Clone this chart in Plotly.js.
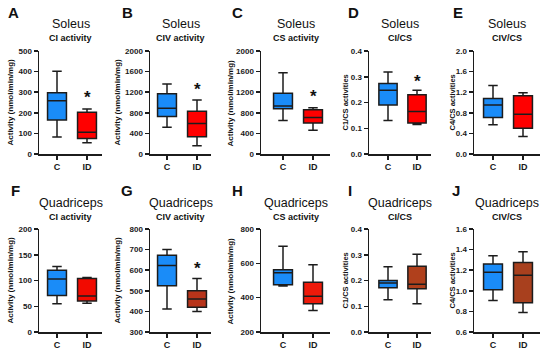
<!DOCTYPE html>
<html>
<head>
<meta charset="utf-8">
<script src="https://cdn.plot.ly/plotly-3.0.1.min.js"></script>
<style>html,body{margin:0;padding:0;background:#fff;}#chart{width:550px;height:349px;}</style>
</head>
<body>
<div id="chart"></div>
<script>
// ---- data ----
const groups = ['C', 'ID'];
const panelLetters = ['A','B','C','D','E','F','G','H','I','J'];
const muscles = ['Soleus','Soleus','Soleus','Soleus','Soleus','Quadriceps','Quadriceps','Quadriceps','Quadriceps','Quadriceps'];
const measures = ['CI activity','CIV activity','CS activity','CI/CS','CIV/CS','CI activity','CIV activity','CS activity','CI/CS','CIV/CS'];
const yTitles = ['Activity (nmol/min/mg)','Activity (nmol/min/mg)','Activity (nmol/min/mg)','C1/CS activities','C4/CS activities',
                 'Activity (nmol/min/mg)','Activity (nmol/min/mg)','Activity (nmol/min/mg)','C1/CS activities','C4/CS activities'];
const yRanges = [[0,500],[0,2000],[0,2000],[0,0.4],[0,2.0],[0,200],[300,800],[200,800],[0,0.4],[0.6,1.6]];
const yDtick = [100,400,400,0.1,0.4,50,100,200,0.1,0.2];
// per panel: [lowerfence, q1, median, q3, upperfence]
const ctrlStats = [
  [82, 165, 258, 297, 402],
  [520, 730, 890, 1170, 1360],
  [650, 880, 930, 1180, 1580],
  [0.13, 0.19, 0.248, 0.274, 0.318],
  [0.57, 0.71, 0.95, 1.08, 1.33],
  [55, 71, 103, 120, 127],
  [412, 525, 623, 672, 700],
  [468, 475, 545, 562, 700],
  [0.125, 0.172, 0.19, 0.2, 0.253],
  [0.905, 1.01, 1.18, 1.26, 1.34]
];
const idStats = [
  [55, 75, 105, 203, 218],
  [160, 335, 590, 830, 1050],
  [460, 600, 710, 860, 900],
  [0.115, 0.12, 0.165, 0.23, 0.248],
  [0.34, 0.5, 0.77, 1.13, 1.19],
  [56, 60, 70, 104, 106],
  [400, 420, 460, 500, 560],
  [325, 365, 408, 490, 592],
  [0.11, 0.168, 0.185, 0.255, 0.302],
  [0.79, 0.885, 1.15, 1.275, 1.38]
];
// significance star (null = none), y value over ID
const starY = [275, 1250, 1120, 0.28, null, null, 610, null, null, null];

// ---- layout geometry (pixels) ----
const W = 550, H = 349;
const colGeom = [[39,57,87,102],[150,167,197,211],[261,283,313,330],[369,388,417,431],[474,493,523,540]];
const rowGeom = [[51,154],[229,332]];
const letterPos = [[13,12],[127,12],[237,12],[353,12],[458,12],[15,190],[127,190],[237,190],[350,190],[456,190]];
const yTitleX = [10,117,230,345,452,10,117,230,345,452];
const yTitleSize = [8,8,8,7.5,7.5,8,8,8,7.5,7.5];

const FONT = 'Liberation Sans, Arial, Helvetica, sans-serif';
const blue = '#1a8cf8';
const redFill = ['#ff0000','#ff0000','#ff0000','#ff0000','#ff0000','#f20a00','#b8341a','#ee1a0a','#b0401c','#a8401e'];
const lineC = '#1c1c1c';

const data = [];
const layout = {
  width: W, height: H,
  margin: {l:0, r:0, t:0, b:0},
  paper_bgcolor: '#ffffff', plot_bgcolor: '#ffffff',
  showlegend: false,
  annotations: [],
  font: {family: FONT, color: '#1a1a1a'}
};

for (let i = 0; i < 10; i++) {
  const col = i % 5, row = Math.floor(i / 5);
  const [x0, xc, xi, x1] = colGeom[col];
  const [yt, yb] = rowGeom[row];
  const s = xi - xc;
  const sfx = i === 0 ? '' : String(i + 1);
  const xa = 'x' + sfx, ya = 'y' + sfx;
  const stats = [ctrlStats[i], idStats[i]];
  const fills = [blue, redFill[i]];
  for (let g = 0; g < 2; g++) {
    const st = stats[g];
    data.push({
      type: 'box', xaxis: xa, yaxis: ya,
      x: [groups[g]],
      lowerfence: [st[0]], q1: [st[1]], median: [st[2]], q3: [st[3]], upperfence: [st[4]],
      fillcolor: fills[g],
      line: {color: lineC, width: 1.5},
      whiskerwidth: 0.5,
      width: 0.63,
      boxpoints: false,
      hoverinfo: 'skip'
    });
  }
  layout['xaxis' + sfx] = {
    domain: [x0 / W, x1 / W],
    anchor: ya,
    type: 'category',
    categoryarray: groups, categoryorder: 'array',
    range: [-(xc - x0) / s, 1 + (x1 - xi) / s],
    showline: true, linecolor: lineC, linewidth: 1.5,
    ticks: 'outside', ticklen: 4, tickwidth: 1.5, tickcolor: lineC,
    tickfont: {family: FONT, size: 9, color: '#1a1a1a', weight: 'bold'},
    showgrid: false, zeroline: false, fixedrange: true
  };
  layout['yaxis' + sfx] = {
    domain: [1 - yb / H, 1 - yt / H],
    anchor: xa,
    range: yRanges[i],
    dtick: yDtick[i], tick0: yRanges[i][0],
    showline: true, linecolor: lineC, linewidth: 1.5,
    ticks: 'outside', ticklen: 4, tickwidth: 1.5, tickcolor: lineC,
    tickfont: {family: FONT, size: 8, color: '#1a1a1a', weight: 'bold'},
    tickformat: (yDtick[i] < 1 ? '.1f' : 'd'),
    showgrid: false, zeroline: false, fixedrange: true
  };
  const cx = (x0 + x1) / 2;
  // panel letter
  layout.annotations.push({
    xref: 'paper', yref: 'paper', x: letterPos[i][0] / W, y: 1 - letterPos[i][1] / H,
    xanchor: 'center', yanchor: 'middle', showarrow: false,
    text: '<b>' + panelLetters[i] + '</b>', font: {family: FONT, size: 15, color: '#111'}
  });
  // main title
  const titleY = row === 0 ? 24 : 203;
  const subY = row === 0 ? 38 : 217;
  layout.annotations.push({
    xref: 'paper', yref: 'paper', x: cx / W, y: 1 - titleY / H,
    xanchor: 'center', yanchor: 'middle', showarrow: false,
    text: muscles[i], font: {family: FONT, size: 12.5, color: '#111'}
  });
  layout.annotations.push({
    xref: 'paper', yref: 'paper', x: cx / W, y: 1 - subY / H,
    xanchor: 'center', yanchor: 'middle', showarrow: false,
    text: '<b>' + measures[i] + '</b>', font: {family: FONT, size: 9, color: '#111'}
  });
  // y title
  layout.annotations.push({
    xref: 'paper', yref: 'paper', x: yTitleX[i] / W, y: 1 - ((yt + yb) / 2) / H,
    xanchor: 'center', yanchor: 'middle', showarrow: false, textangle: -90,
    text: '<b>' + yTitles[i] + '</b>', font: {family: FONT, size: yTitleSize[i], color: '#111'}
  });
  if (starY[i] !== null) {
    layout.annotations.push({
      xref: xa, yref: ya, x: 'ID', y: starY[i],
      xanchor: 'center', yanchor: 'middle', showarrow: false,
      text: '<b>*</b>', font: {family: FONT, size: 17, color: '#111'}
    });
  }
}

Plotly.newPlot('chart', data, layout, {displayModeBar: false, staticPlot: true});
</script>
</body>
</html>
